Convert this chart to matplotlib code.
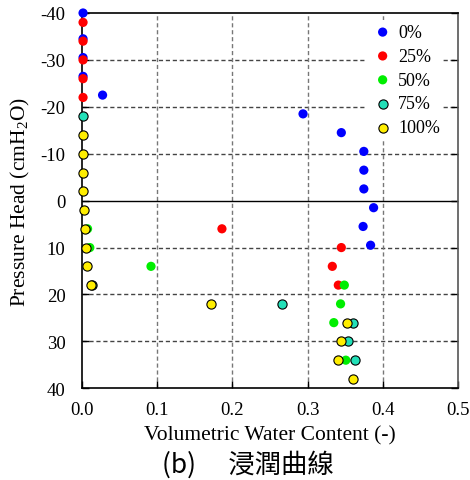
import matplotlib
matplotlib.use("Agg")
import matplotlib.pyplot as plt

plt.rcParams['font.family'] = ['Liberation Serif', 'DejaVu Serif']
plt.rcParams['mathtext.fontset'] = 'custom'
plt.rcParams['mathtext.rm'] = 'Liberation Serif'

# Data: (volumetric water content, pressure head)
labels = ['0%', '25%', '50%', '75%', '100%']
colors = ['#0000ff', '#ff0000', '#00ee00', '#22e0b8', '#ffee00']
edged = [False, False, False, True, True]

theta_0 = [0.001, 0.001, 0.001, 0.001, 0.027, 0.294, 0.345, 0.375, 0.375, 0.375, 0.388, 0.374, 0.384]
head_0 = [-40, -34.5, -30.5, -26.5, -22.5, -18.5, -14.5, -10.5, -6.5, -2.5, 1.5, 5.5, 9.5]

theta_25 = [0.001, 0.001, 0.001, 0.001, 0.001, 0.186, 0.345, 0.333, 0.341]
head_25 = [-38, -34, -30, -26, -22, 6, 10, 14, 18]

theta_50 = [0.007, 0.010, 0.0915, 0.349, 0.344, 0.335, 0.351]
head_50 = [6, 10, 14, 18, 22, 26, 34]

theta_75 = [0.001, 0.013, 0.266, 0.360, 0.354, 0.363]
head_75 = [-18, 18, 22, 26, 30, 34]

theta_100 = [0.001, 0.001, 0.001, 0.001, 0.002, 0.0036, 0.005, 0.0067, 0.011, 0.172, 0.3525, 0.345, 0.341, 0.361]
head_100 = [-14, -10, -6, -2, 2, 6, 10, 14, 18, 22, 26, 30, 34, 38]

series_x = [theta_0, theta_25, theta_50, theta_75, theta_100]
series_y = [head_0, head_25, head_50, head_75, head_100]

xticks = [0.0, 0.1, 0.2, 0.3, 0.4, 0.5]
xticklabels = ['0.0', '0.1', '0.2', '0.3', '0.4', '0.5']
yticks = [-40, -30, -20, -10, 0, 10, 20, 30, 40]
yticklabels = ['-40', '-30', '-20', '-10', '0', '10', '20', '30', '40']

fig = plt.figure(figsize=(4.70, 4.81), dpi=100)
ax = fig.add_axes([0.1751, 0.1906, 0.9738 - 0.1751, 0.9709 - 0.1906])

for xs, ys, c, e, lab in zip(series_x, series_y, colors, edged, labels):
    ax.scatter(xs, ys, s=44, c=c, edgecolors='black' if e else 'none',
               linewidths=0.8 if e else 0, label=lab, zorder=3, clip_on=False)

ax.set_xlim(0, 0.5)
ax.set_ylim(40, -40)
ax.set_xticks(xticks)
ax.set_xticklabels(xticklabels)
ax.set_yticks(yticks)
ax.set_yticklabels(yticklabels)

for yv in [-30, -20, -10, 10, 20, 30]:
    ax.axhline(yv, color='#444444', linestyle=(0, (3, 2)), linewidth=1.0, zorder=1)
for xv in [0.1, 0.2, 0.3, 0.4]:
    ax.axvline(xv, color='#777777', linestyle=(0, (3, 2)), linewidth=1.0, zorder=1)
ax.axhline(0, color='black', linewidth=1.0, zorder=1)

ax.tick_params(axis='both', direction='in', labelsize=13.5, length=5, width=1)
ax.tick_params(axis='y', right=True, pad=12)
ax.tick_params(axis='x', pad=9)
for s in ['left', 'bottom', 'top']:
    ax.spines[s].set_color('black')
    ax.spines[s].set_linewidth(1.2)
ax.spines['right'].set_color('#555555')
ax.spines['right'].set_linewidth(1.2)

ax.set_xlabel('Volumetric Water Content (-)', fontsize=15.5, labelpad=5)
ax.set_ylabel('Pressure Head (cmH$_\\mathrm{2}$O)', fontsize=15.5, labelpad=6)

leg = ax.legend(loc='upper right', bbox_to_anchor=(1.0 - 7 / 376, 1.0), fontsize=13,
                frameon=True, framealpha=1, edgecolor='none', facecolor='white',
                handletextpad=0.15, labelspacing=0.38, borderpad=0.2,
                handlelength=1.4, borderaxespad=0.4, scatterpoints=1)
leg.set_zorder(2)

fig.text(0.528, 0.033, '(b)\u3000 浸潤曲線', ha='center', va='center', fontsize=19,
         family=['Noto Sans CJK TC', 'DejaVu Sans'])

fig.savefig('out.png', dpi=100)
